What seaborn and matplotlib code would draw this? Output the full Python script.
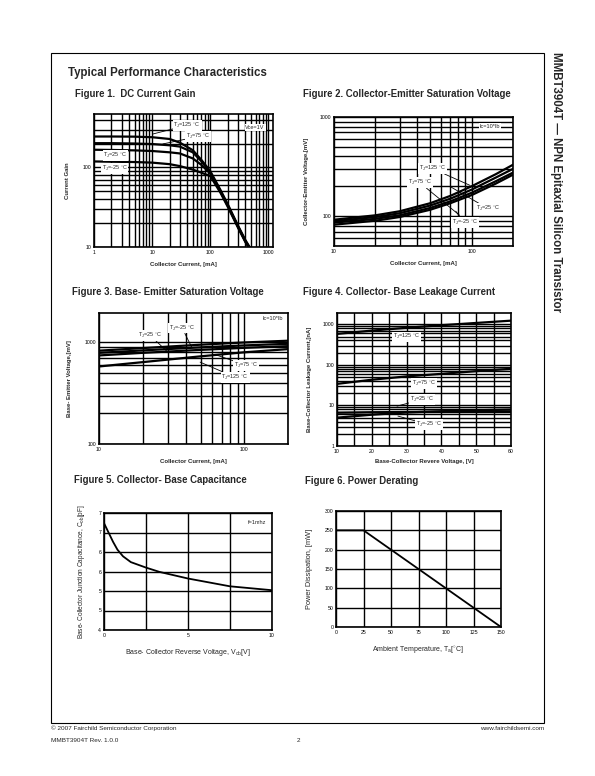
import numpy as np
import pandas as pd
import matplotlib
matplotlib.use("Agg")
import matplotlib.pyplot as plt
import seaborn as sns
from matplotlib.patches import Rectangle
from matplotlib.ticker import LogLocator, NullFormatter, FixedLocator, FixedFormatter, MultipleLocator

# ---------------- data ----------------
# Figure 1: DC current gain
ic1 = [1, 2, 5, 10, 20, 30, 50, 70, 100, 150, 200, 300, 400, 500]
hfe_125 = [245, 245, 244, 240, 228, 205, 165, 125, 90, 52, 34.5, 18.6, 12.3, 9.4]
hfe_75 = [202, 202, 200, 197, 190, 183, 155, 120, 87, 50.5, 33.5, 18.2, 12.0, 9.2]
hfe_25 = [167, 166, 164, 161, 155, 150, 130, 108, 84, 49.5, 33, 17.9, 11.8, 9.0]
hfe_m25 = [119, 118, 117, 115, 110, 104, 94, 86, 78, 48, 32, 17.5, 11.6, 8.9]

# Figure 2: Vce(sat)
ic2 = [10, 20, 30, 50, 70, 100, 150, 200]
vce_125 = [92, 102, 112, 135, 160, 200, 265, 330]
vce_75 = [89, 98, 107, 128, 150, 185, 245, 300]
vce_25 = [86, 94, 102, 121, 141, 172, 225, 275]
vce_m25 = [82, 90, 98, 116, 135, 163, 213, 262]

# Figure 3: Vbe(sat)
ic3 = [10, 20, 50, 100, 200]
vbe_m25 = [830, 880, 950, 1000, 1040]
vbe_25 = [790, 835, 895, 935, 970]
vbe_75 = [745, 790, 845, 885, 920]
vbe_125 = [580, 640, 730, 800, 860]

# Figure 4: Collector-base leakage current
vcb4 = [10, 20, 30, 40, 50, 60]
icbo_125 = [580, 700, 820, 950, 1080, 1230]
icbo_75 = [34, 43, 52, 60, 70, 80]
icbo_25 = [5.0, 5.9, 6.7, 7.2, 7.6, 7.9]
icbo_m25 = [6.6, 6.8, 6.9, 7.0, 7.0, 7.1]

# Figure 5: collector-base capacitance
vcb5 = [0, 0.27, 0.54, 0.8, 1.13, 1.6, 2.5, 3.3, 5, 7.5, 10]
cob5 = [6.74, 6.5, 6.26, 6.06, 5.89, 5.74, 5.60, 5.49, 5.32, 5.12, 5.02]
cap_ticks = [4.0, 4.5, 5.0, 5.5, 6.0, 6.5, 7.0]
cap_tick_labels = ["4", "5", "5", "6", "6", "7", "7"]

# Figure 6: power derating
ta6 = [0, 25, 150]
pd6 = [250, 250, 0]

# ---------------- style ----------------
sns.set_style("white")
plt.rcParams['font.family'] = ['Liberation Sans', 'DejaVu Sans']
plt.rcParams['mathtext.fontset'] = 'custom'
plt.rcParams['mathtext.rm'] = 'Liberation Sans'
plt.rcParams['mathtext.it'] = 'Liberation Sans'
plt.rcParams['mathtext.bf'] = 'Liberation Sans:bold'

W, H = 595, 776
fig = plt.figure(figsize=(W / 100, H / 100), dpi=100)


def rect(l, t, r, b):
    return [l / W, 1 - b / H, (r - l) / W, (b - t) / H]


TICK_FS = 3.7
LAB_FS = 4.3
LAB_FS2 = 5.0
ANN_FS = 4.0
GRID_LW = 1.0
CURVE_LW = 1.6


def style_ax(ax):
    for s in ax.spines.values():
        s.set_color('black')
        s.set_linewidth(1.2)
    ax.tick_params(axis='both', which='both', length=0, labelsize=TICK_FS, pad=2, colors='black')
    ax.set_axisbelow(True)


def grid_both(ax):
    ax.grid(True, which='both', color='black', lw=GRID_LW)


def ann(ax, text, xy_text, xy_tip=None, boxed=True):
    bbox = dict(boxstyle='square,pad=0.15', fc='white', ec='none') if boxed else None
    if xy_tip is None:
        ax.text(xy_text[0], xy_text[1], text, transform=ax.transAxes, fontsize=ANN_FS,
                ha='center', va='center', bbox=bbox, zorder=5)
    else:
        ax.annotate(text, xy=xy_tip, xycoords='axes fraction', xytext=xy_text,
                    textcoords='axes fraction', fontsize=ANN_FS, ha='center', va='center',
                    bbox=bbox, zorder=5,
                    arrowprops=dict(arrowstyle='-', color='black', lw=0.6, shrinkA=0, shrinkB=0))


def black_line(ax, x, y, lw=CURVE_LW):
    sns.lineplot(x=x, y=y, ax=ax, color='black', lw=lw, legend=False, zorder=3)


# ---------------- Figure 1 ----------------
ax1 = fig.add_axes(rect(94, 114, 273, 247))
for y in (hfe_125, hfe_75, hfe_25, hfe_m25):
    black_line(ax1, ic1, y)
ax1.set_xscale('log'); ax1.set_yscale('log')
ax1.set_xlim(1, 1200); ax1.set_ylim(10, 470)
ax1.xaxis.set_major_locator(FixedLocator([1, 10, 100, 1000]))
ax1.xaxis.set_major_formatter(FixedFormatter(["1", "10", "100", "1000"]))
ax1.xaxis.set_minor_locator(LogLocator(base=10, subs=range(2, 10)))
ax1.xaxis.set_minor_formatter(NullFormatter())
ax1.yaxis.set_major_locator(FixedLocator([10, 100]))
ax1.yaxis.set_major_formatter(FixedFormatter(["10", "100"]))
ax1.yaxis.set_minor_locator(LogLocator(base=10, subs=range(2, 10)))
ax1.yaxis.set_minor_formatter(NullFormatter())
grid_both(ax1); style_ax(ax1)
ax1.set_xlabel("Collector Current, [mA]", fontsize=LAB_FS, fontweight='bold', labelpad=5)
ax1.set_ylabel("Current Gain", fontsize=LAB_FS, fontweight='bold', labelpad=9)
ann(ax1, r"T$_J$=125 $^{\circ}$C", (0.52, 0.915), (0.33, 0.85))
ann(ax1, r"T$_J$=75 $^{\circ}$C", (0.58, 0.83), (0.385, 0.775))
ann(ax1, r"T$_J$=25 $^{\circ}$C", (0.12, 0.69))
ann(ax1, r"T$_J$=-25 $^{\circ}$C", (0.115, 0.59))
ann(ax1, "Vce=1V", (0.90, 0.90))

# ---------------- Figure 2 ----------------
ax2 = fig.add_axes(rect(334, 117, 513, 246))
for y in (vce_125, vce_75, vce_25, vce_m25):
    black_line(ax2, ic2, y)
ax2.set_xscale('log'); ax2.set_yscale('log')
ax2.set_xlim(10, 200); ax2.set_ylim(50, 1000)
ax2.xaxis.set_major_locator(FixedLocator([10, 100]))
ax2.xaxis.set_major_formatter(FixedFormatter(["10", "100"]))
ax2.xaxis.set_minor_locator(LogLocator(base=10, subs=range(2, 10)))
ax2.xaxis.set_minor_formatter(NullFormatter())
ax2.yaxis.set_major_locator(FixedLocator([100, 1000]))
ax2.yaxis.set_major_formatter(FixedFormatter(["100", "1000"]))
ax2.yaxis.set_minor_locator(LogLocator(base=10, subs=range(2, 10)))
ax2.yaxis.set_minor_formatter(NullFormatter())
grid_both(ax2); style_ax(ax2)
ax2.set_xlabel("Collector Current, [mA]", fontsize=LAB_FS, fontweight='bold', labelpad=5)
ax2.set_ylabel("Collector-Emitter Voltage,[mV]", fontsize=LAB_FS, fontweight='bold', labelpad=8)
ann(ax2, r"T$_J$=125 $^{\circ}$C", (0.55, 0.60), (0.76, 0.47))
ann(ax2, r"T$_J$=75 $^{\circ}$C", (0.48, 0.49), (0.70, 0.24))
ann(ax2, r"T$_J$=25 $^{\circ}$C", (0.86, 0.29), (0.65, 0.46))
ann(ax2, r"T$_J$=-25 $^{\circ}$C", (0.73, 0.18), (0.68, 0.27))
ann(ax2, "Ic=10*Ib", (0.87, 0.93))

# ---------------- Figure 3 ----------------
ax3 = fig.add_axes(rect(99, 313, 288, 444))
for y in (vbe_m25, vbe_25, vbe_75, vbe_125):
    black_line(ax3, ic3, y)
ax3.set_xscale('log'); ax3.set_yscale('log')
ax3.set_xlim(10, 200); ax3.set_ylim(100, 1950)
ax3.xaxis.set_major_locator(FixedLocator([10, 100]))
ax3.xaxis.set_major_formatter(FixedFormatter(["10", "100"]))
ax3.xaxis.set_minor_locator(LogLocator(base=10, subs=range(2, 10)))
ax3.xaxis.set_minor_formatter(NullFormatter())
ax3.yaxis.set_major_locator(FixedLocator([100, 1000]))
ax3.yaxis.set_major_formatter(FixedFormatter(["100", "1000"]))
ax3.yaxis.set_minor_locator(LogLocator(base=10, subs=range(2, 10)))
ax3.yaxis.set_minor_formatter(NullFormatter())
grid_both(ax3); style_ax(ax3)
ax3.set_xlabel("Collector Current, [mA]", fontsize=LAB_FS, fontweight='bold', labelpad=5)
ax3.set_ylabel("Base- Emitter Voltage,[mV]", fontsize=LAB_FS, fontweight='bold', labelpad=9)
ann(ax3, r"T$_J$=-25 $^{\circ}$C", (0.44, 0.885), (0.49, 0.74))
ann(ax3, r"T$_J$=25 $^{\circ}$C", (0.27, 0.83), (0.365, 0.70))
ann(ax3, r"T$_J$=75 $^{\circ}$C", (0.78, 0.60), (0.62, 0.68))
ann(ax3, r"T$_J$=125 $^{\circ}$C", (0.72, 0.51), (0.535, 0.625))
ann(ax3, "Ic=10*Ib", (0.92, 0.955))

# ---------------- Figure 4 ----------------
ax4 = fig.add_axes(rect(337, 313, 511, 446))
for y in (icbo_125, icbo_75, icbo_25, icbo_m25):
    black_line(ax4, vcb4, y)
ax4.set_yscale('log')
ax4.set_xlim(10, 60); ax4.set_ylim(1, 1900)
ax4.xaxis.set_major_locator(MultipleLocator(10))
ax4.xaxis.set_minor_locator(MultipleLocator(5))
ax4.yaxis.set_major_locator(FixedLocator([1, 10, 100, 1000]))
ax4.yaxis.set_major_formatter(FixedFormatter(["1", "10", "100", "1000"]))
ax4.yaxis.set_minor_locator(LogLocator(base=10, subs=range(2, 10)))
ax4.yaxis.set_minor_formatter(NullFormatter())
grid_both(ax4); style_ax(ax4)
ax4.set_xlabel("Base-Collector Revere Voltage, [V]", fontsize=LAB_FS, fontweight='bold', labelpad=4)
ax4.set_ylabel("Base-Collector Leakage Current,[nA]", fontsize=LAB_FS, fontweight='bold', labelpad=8)
ann(ax4, r"T$_J$=125 $^{\circ}$C", (0.40, 0.82))
ann(ax4, r"T$_J$=75 $^{\circ}$C", (0.50, 0.47))
ann(ax4, r"T$_J$=25 $^{\circ}$C", (0.49, 0.35), (0.345, 0.30))
ann(ax4, r"T$_J$=-25 $^{\circ}$C", (0.53, 0.16), (0.35, 0.225))

# ---------------- Figure 5 ----------------
ax5 = fig.add_axes(rect(104, 513, 272, 630))
black_line(ax5, vcb5, cob5, lw=1.3)
ax5.set_xlim(0, 10); ax5.set_ylim(4, 7)
ax5.xaxis.set_major_locator(FixedLocator([0, 5, 10]))
ax5.xaxis.set_minor_locator(FixedLocator([2.5, 7.5]))
ax5.yaxis.set_major_locator(FixedLocator(cap_ticks))
ax5.yaxis.set_major_formatter(FixedFormatter(cap_tick_labels))
grid_both(ax5); style_ax(ax5)
ax5.set_xlabel(r"Base- Collector Reverse Voltage, V$_{cb}$[V]", fontsize=LAB_FS2, labelpad=7)
ax5.set_ylabel(r"Base- Collector Junction Capacitance, C$_{ob}$[pF]", fontsize=LAB_FS2 - 0.3, labelpad=8)
ann(ax5, "f=1mhz", (0.91, 0.915))

# ---------------- Figure 6 ----------------
ax6 = fig.add_axes(rect(336, 511, 501, 627))
black_line(ax6, ta6, pd6, lw=1.3)
ax6.set_xlim(0, 150); ax6.set_ylim(0, 300)
ax6.xaxis.set_major_locator(MultipleLocator(25))
ax6.yaxis.set_major_locator(MultipleLocator(50))
grid_both(ax6); style_ax(ax6)
ax6.set_xlabel(r"Ambient Temperature, T$_a$[$^{\circ}$C]", fontsize=LAB_FS2, labelpad=7)
ax6.set_ylabel("Power Dissipation, [mW]", fontsize=5.3, labelpad=8)

# ---------------- page texts ----------------
fig.add_artist(Rectangle((51 / W, 1 - 723 / H), (544 - 51) / W, (723 - 53) / H,
                         transform=fig.transFigure, fill=False, ec='black', lw=0.8))

def ftext(x, y, s, **kw):
    fig.text(x / W, 1 - y / H, s, **kw)

ftext(68, 73, "Typical Performance Characteristics", fontsize=8.3, fontweight='bold', ha='left', va='center')
TF = 6.9
ftext(75, 94, "Figure 1.  DC Current Gain", fontsize=TF, fontweight='bold', ha='left', va='center')
ftext(303, 94, "Figure 2. Collector-Emitter Saturation Voltage", fontsize=TF, fontweight='bold', ha='left', va='center')
ftext(72, 292, "Figure 3. Base- Emitter Saturation Voltage", fontsize=TF, fontweight='bold', ha='left', va='center')
ftext(303, 292, "Figure 4. Collector- Base Leakage Current", fontsize=TF, fontweight='bold', ha='left', va='center')
ftext(74, 480, "Figure 5. Collector- Base Capacitance", fontsize=TF, fontweight='bold', ha='left', va='center')
ftext(305, 481, "Figure 6. Power Derating", fontsize=TF, fontweight='bold', ha='left', va='center')

ftext(556, 52, "MMBT3904T \u2014 NPN Epitaxial Silicon Transistor", fontsize=8.3, fontweight='bold',
      rotation=-90, ha='center', va='top')

FF = 4.6
ftext(51, 728, "\u00a9 2007 Fairchild Semiconductor Corporation", fontsize=FF, ha='left', va='center')
ftext(51, 740, "MMBT3904T Rev. 1.0.0", fontsize=FF, ha='left', va='center')
ftext(298, 740, "2", fontsize=FF, ha='center', va='center')
ftext(544, 728, "www.fairchildsemi.com", fontsize=FF, ha='right', va='center')

fig.savefig("out.png", dpi=100, facecolor='white')
